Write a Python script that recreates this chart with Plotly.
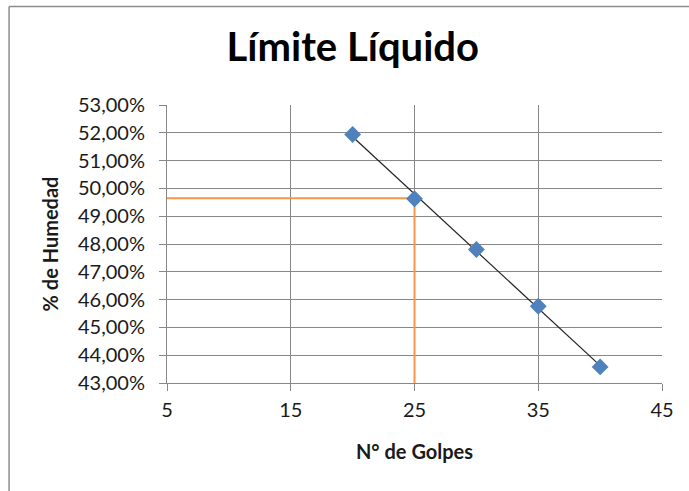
import numpy as np
import plotly.graph_objects as go

# Ensayo de límite líquido (Casagrande)
golpes = [20, 25, 30, 35, 40]
humedad = [0.5194, 0.4963, 0.4780, 0.4576, 0.4358]
golpes_ref = 25
limite_liquido = 0.4965

x_range = [5, 45]
y_range = [0.43, 0.53]

# recta de ajuste por mínimos cuadrados
pend, orde = np.polyfit(golpes, humedad, 1)
x_fit = np.array([min(golpes), max(golpes)])
y_fit = pend * x_fit + orde

FONT = "Lato"
GRID = "#878787"

fig = go.Figure()

# líneas de lectura para 25 golpes
fig.add_trace(go.Scatter(
    x=[x_range[0], golpes_ref, golpes_ref],
    y=[limite_liquido, limite_liquido, y_range[0]],
    mode="lines", line=dict(color="#F79646", width=2),
    hoverinfo="skip", showlegend=False, cliponaxis=False,
))

fig.add_trace(go.Scatter(
    x=x_fit, y=y_fit, mode="lines",
    line=dict(color="#222222", width=1.2),
    showlegend=False,
))

fig.add_trace(go.Scatter(
    x=golpes, y=humedad, mode="markers",
    marker=dict(symbol="diamond", size=13, color="#4F81BD",
                line=dict(width=0)),
    showlegend=False,
))

axis_common = dict(
    showgrid=True, gridcolor=GRID, gridwidth=1,
    showline=True, linecolor=GRID, linewidth=1,
    ticks="outside", ticklen=7, tickcolor=GRID, tickwidth=1,
    zeroline=False, mirror=False,
    tickfont=dict(family=FONT, size=20, color="#1a1a1a"),
)

fig.update_xaxes(
    range=x_range, tick0=5, dtick=10, ticklabelstandoff=2, **axis_common,
    title=dict(text="<b>N° de Golpes</b>", standoff=24,
               font=dict(family=FONT, size=20, color="#1a1a1a")),
)
fig.update_yaxes(
    range=y_range, dtick=0.01, tickformat=".2%", ticklabelstandoff=10,
    **axis_common,
    title=dict(text="<b>% de Humedad</b>", standoff=14,
               font=dict(family=FONT, size=20, color="#1a1a1a")),
)

# marco del área del gráfico
fig.add_shape(type="line", xref="paper", yref="paper",
              x0=-0.319, x1=-0.319, y0=1.354, y1=-0.5,
              line=dict(color="#8c8c8c", width=1.5))
fig.add_shape(type="line", xref="paper", yref="paper",
              x0=-0.319, x1=1.2, y0=1.354, y1=1.354,
              line=dict(color="#8c8c8c", width=1.5))

fig.update_layout(
    width=689, height=491,
    margin=dict(l=167, r=27, t=105, b=108),
    paper_bgcolor="white", plot_bgcolor="white",
    separators=",.",
    title=dict(text="<b>Límite Líquido</b>", x=0.512, xanchor="center",
               y=0.905, yanchor="middle",
               font=dict(family=FONT, size=40, color="#000000")),
)

fig.write_html("out.html")
